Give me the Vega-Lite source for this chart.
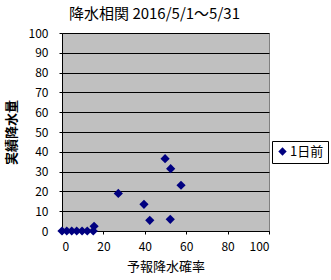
{
  "$schema": "https://vega.github.io/schema/vega-lite/v6.json",
  "width": 207,
  "height": 198,
  "autosize": {"type": "none"},
  "padding": {"left": 62, "top": 33, "right": 62, "bottom": 49},
  "background": "white",
  "title": {
    "text": "降水相関 2016/5/1～5/31",
    "font": "Noto Sans CJK JP",
    "fontSize": 15,
    "fontWeight": "normal",
    "color": "black",
    "anchor": "middle",
    "dx": -11,
    "offset": 5
  },
  "data": {
    "values": [
      {"forecast": 0, "actual": 0, "series": "1日前"},
      {"forecast": 2.3, "actual": 0, "series": "1日前"},
      {"forecast": 4.7, "actual": 0, "series": "1日前"},
      {"forecast": 7.1, "actual": 0, "series": "1日前"},
      {"forecast": 9.7, "actual": 0, "series": "1日前"},
      {"forecast": 12.2, "actual": 0, "series": "1日前"},
      {"forecast": 15.1, "actual": 0, "series": "1日前"},
      {"forecast": 15.5, "actual": 2.4, "series": "1日前"},
      {"forecast": 27.2, "actual": 19.0, "series": "1日前"},
      {"forecast": 39.6, "actual": 13.5, "series": "1日前"},
      {"forecast": 42.4, "actual": 5.4, "series": "1日前"},
      {"forecast": 49.8, "actual": 36.5, "series": "1日前"},
      {"forecast": 52.5, "actual": 31.5, "series": "1日前"},
      {"forecast": 52.3, "actual": 5.9, "series": "1日前"},
      {"forecast": 57.5, "actual": 23.1, "series": "1日前"}
    ]
  },
  "mark": {"type": "point", "shape": "diamond", "filled": true, "size": 85, "opacity": 1, "clip": false},
  "encoding": {
    "x": {
      "field": "forecast",
      "type": "quantitative",
      "title": "予報降水確率",
      "scale": {"domain": [0, 100], "nice": false, "zero": true},
      "axis": {
        "values": [0, 20, 40, 60, 80, 100],
        "grid": false,
        "domainColor": "black",
        "tickColor": "black",
        "tickSize": 3,
        "labelPadding": 7,
        "titlePadding": 8
      }
    },
    "y": {
      "field": "actual",
      "type": "quantitative",
      "title": "実績降水量",
      "scale": {"domain": [0, 100], "nice": false},
      "axis": {
        "values": [0, 10, 20, 30, 40, 50, 60, 70, 80, 90, 100],
        "grid": true,
        "gridColor": "black",
        "gridOpacity": 1,
        "domainColor": "black",
        "tickColor": "black",
        "tickSize": 3,
        "labelPadding": 11,
        "titlePadding": 10,
        "titleFontWeight": "bold"
      }
    },
    "color": {
      "field": "series",
      "type": "nominal",
      "scale": {"range": ["#000080"]},
      "legend": {
        "title": null,
        "orient": "none",
        "legendX": 210,
        "legendY": 108,
        "strokeColor": "black",
        "fillColor": "white",
        "padding": 4,
        "symbolType": "diamond",
        "symbolSize": 70,
        "labelFontSize": 13,
        "labelFont": "Noto Sans CJK JP",
        "labelColor": "black",
        "symbolOffset": 0,
        "labelOffset": 1
      }
    }
  },
  "config": {
    "view": {"fill": "#C0C0C0", "stroke": "#808080", "strokeWidth": 1},
    "axis": {
      "labelFont": "Noto Sans CJK JP",
      "labelFontSize": 12,
      "labelColor": "black",
      "titleFont": "Noto Sans CJK JP",
      "titleFontSize": 13,
      "titleFontWeight": "normal",
      "titleColor": "black"
    }
  }
}
